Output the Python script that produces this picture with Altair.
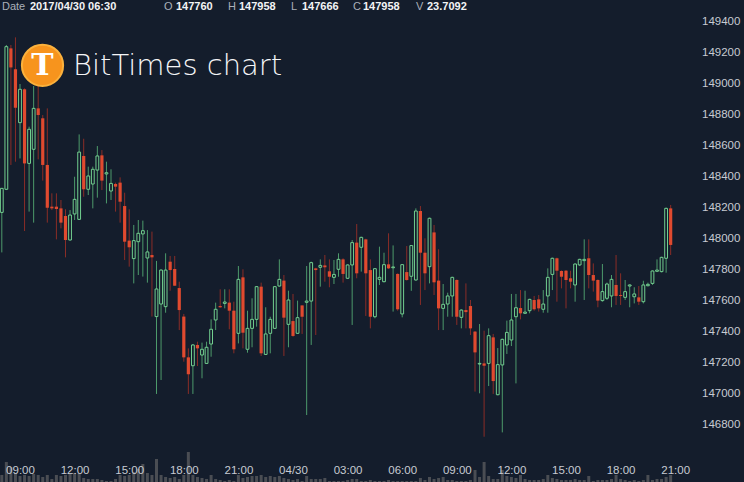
import altair as alt
import pandas as pd

# ---- data (15-minute candles, 2017/04/29 08:00 -> 2017/04/30 20:45) ----
opens = [148172,148321,149230,149095,148751,148966,148488,148579,148843,148779,
         148478,148209,148209,148198,148149,147994,148162,148127,148536,148321,
         148355,148445,148540,148420,148310,148355,148364,148213,147990,147874,
         147983,148033,147878,147897,147500,147581,147564,147854,147807,147684,
         147500,147237,147183,147317,147252,147198,147323,147478,147568,147585,
         147590,147538,147392,147753,147289,147424,147482,147693,147256,147392,
         147424,147697,147732,147450,147471,147392,147572,147592,147600,147811,
         147818,147830,147792,147753,147805,147869,147747,147833,147977,147947,
         147998,147800,147499,147740,147725,147837,147815,147775,147517,147787,
         147760,147736,148181,147912,147822,148043,147732,147553,147581,147633,
         147736,147495,147542,147568,147403,147194,147198,147198,147366,146996,
         147188,147317,147349,147499,147555,147521,147538,147607,147611,147547,
         147633,147772,147876,147794,147796,147747,147704,147833,147861,147876,
         147768,147736,147603,147618,147633,147704,147639,147624,147697,147628,
         147624,147596,147699,147714,147792,147790,147876,148198]
highs = [148327,149252,149252,149301,149000,148972,148725,148987,148987,148800,
         148843,148295,148295,148252,148192,148187,148402,148675,148647,148467,
         148467,148600,148574,148499,148450,148364,148398,148299,148192,148091,
         148123,148119,148058,148048,147859,147805,147908,147891,147891,147725,
         147517,147295,147323,147338,147332,147338,147482,147590,147676,147676,
         147676,147596,147826,147805,147538,147618,147697,147719,147560,147499,
         147697,147869,147768,147667,147646,147603,147572,147826,147854,147815,
         147869,147897,147869,147865,147908,147876,147837,147994,148097,148015,
         148002,147869,147813,147951,147912,148037,147959,147779,147839,147955,
         147958,148198,148213,148005,148138,148091,147934,147710,147654,147757,
         147740,147547,147714,147607,147407,147452,147409,147424,147388,147297,
         147358,147474,147646,147646,147671,147667,147615,147633,147639,147671,
         147811,147880,147880,147798,147800,147796,147843,147873,147998,147998,
         147843,147740,147839,147719,147768,147897,147779,147736,147708,147689,
         147697,147731,147719,147798,147869,147886,148203,148220]
lows = [147914,148316,148478,148499,148520,148052,148177,148106,148514,148377,
        148106,148187,147998,148069,147882,147990,148123,148123,148273,148284,
        148198,148267,148316,148230,148252,148177,148106,147865,147822,147714,
        147768,147758,147719,147500,147001,147091,147525,147667,147699,147413,
        147209,147001,147001,147181,147102,147194,147241,147413,147557,147553,
        147418,147263,147327,147295,147267,147302,147435,147246,147252,147263,
        147424,147693,147246,147302,147370,147388,147388,146865,147317,147381,
        147693,147725,147689,147710,147757,147719,147742,147446,147747,147790,
        147504,147424,147489,147704,147721,147807,147532,147538,147495,147732,
        147666,147732,147575,147671,147714,147639,147413,147413,147499,147499,
        147446,147424,147424,147381,147016,147005,146725,147052,147001,146992,
        146753,147259,147310,147069,147482,147517,147521,147538,147532,147525,
        147525,147671,147596,147682,147553,147682,147596,147826,147607,147682,
        147661,147560,147596,147607,147560,147575,147575,147607,147560,147585,
        147575,147585,147695,147704,147787,147785,147783,147897]
closes = [148327,149241,149107,148847,148966,148488,148708,148843,148800,148478,
          148202,148198,148194,148106,147994,148155,148256,148561,148321,148407,
          148450,148536,148377,148428,148359,148338,148241,147983,147947,147990,
          148037,148054,147917,147882,147678,147800,147800,147800,147699,147542,
          147237,147128,147317,147295,147289,147302,147418,147547,147560,147594,
          147538,147289,147740,147396,147424,147482,147693,147263,147388,147482,
          147693,147740,147493,147607,147375,147493,147499,147600,147848,147800,
          147830,147818,147757,147772,147869,147775,147833,147977,147779,148011,
          147779,147499,147809,147753,147835,147811,147820,147547,147835,147736,
          147958,148181,147912,147779,148134,147721,147553,147579,147633,147753,
          147499,147542,147529,147424,147269,147198,147183,147377,147084,147190,
          147353,147398,147478,147557,147521,147529,147611,147547,147553,147581,
          147753,147876,147796,147757,147736,147725,147839,147869,147869,147768,
          147732,147603,147661,147710,147740,147633,147633,147661,147704,147646,
          147596,147704,147708,147794,147800,147882,148198,147962]
volumes = [168,480,360,216,144,168,144,192,168,120,
           168,72,168,144,168,192,216,216,96,72,
           72,72,48,24,24,72,168,144,168,240,
           312,432,216,168,552,168,120,96,120,72,
           168,720,168,120,96,72,168,72,48,24,
           48,24,168,96,120,144,144,168,120,144,
           120,144,96,72,48,72,24,144,72,72,
           72,96,24,24,24,24,48,72,72,24,
           24,48,24,24,24,48,24,24,24,24,
           24,24,96,48,120,72,96,120,48,48,
           24,24,24,48,288,120,480,144,72,72,
           288,144,120,96,168,72,48,48,48,72,
           168,96,72,48,48,48,72,48,48,144,
           24,48,48,48,72,168,72,48,24,48,
           24,48,168,48,72,72,120,168]

tick_index = [4, 16, 28, 40, 52, 64, 76, 88, 100, 112, 124, 136, 148]
tick_labels = ["09:00", "12:00", "15:00", "18:00", "21:00", "04/30", "03:00",
               "06:00", "09:00", "12:00", "15:00", "18:00", "21:00"]
price_ticks = list(range(146800, 149401, 200))

# ---- styling ----
BG = "#141d2c"
RED = "#e04a2f"
RED_WICK = "#8a2d27"
GREEN = "#72cf8f"
GREEN_WICK = "#4d9a6b"
VOL = "#4a4d53"
LABEL = "#c7cbd2"
FONT = "Liberation Sans"

W, H = 690, 482
XDOM = [-0.396, 151.25]
YDOM = [146433, 149542]
VOL_MAX = 720          # volume drawn 30px tall at most
VOL_SPAN = 30 * (YDOM[1] - YDOM[0]) / H

df = pd.DataFrame({
    "i": list(range(len(opens))),
    "open": opens, "high": highs, "low": lows, "close": closes,
    "volume": volumes,
})
df["dir"] = ["up" if c >= o else "down" for o, c in zip(opens, closes)]

label_array = "[" + ",".join("'%s'" % s for s in tick_labels) + "]"
x_axis = alt.Axis(values=tick_index, labelExpr=label_array + "[round((datum.value-4)/12)]",
                  orient="bottom", offset=-20, domain=False, ticks=False, grid=False,
                  labelPadding=2, labelColor=LABEL, labelFont=FONT, labelFontSize=11.5,
                  title=None, zindex=1, labelFlush=False, labelOverlap=False)

xscale = alt.Scale(domain=XDOM, nice=False, zero=False, padding=0)
yscale = alt.Scale(domain=YDOM, nice=False, zero=False, padding=0)

base = alt.Chart(df)

vol = base.transform_calculate(
    vbase=str(YDOM[0]),
    vtop="%f + datum.volume * %f" % (YDOM[0], VOL_SPAN / VOL_MAX),
).mark_bar(width=3, color=VOL).encode(
    x=alt.X("i:Q", scale=xscale, axis=x_axis),
    y=alt.Y("vbase:Q", scale=yscale, axis=None),
    y2="vtop:Q",
)

wicks = base.mark_rule(strokeWidth=1).encode(
    x=alt.X("i:Q"),
    y=alt.Y("low:Q", axis=None),
    y2="high:Q",
    color=alt.Color("dir:N", scale=alt.Scale(domain=["up", "down"], range=[GREEN_WICK, RED_WICK]),
                    legend=None),
)
down_bodies = base.transform_filter(alt.datum.dir == "down").mark_bar(width=3.2, color=RED).encode(
    x=alt.X("i:Q"),
    y=alt.Y("open:Q", axis=None),
    y2="close:Q",
)
up_bodies = base.transform_filter(alt.datum.dir == "up").mark_bar(
    width=2.8, fill=BG, stroke=GREEN, strokeWidth=1).encode(
    x=alt.X("i:Q"),
    y=alt.Y("open:Q", axis=None),
    y2="close:Q",
)

# price labels on the right, positioned through the shared price scale
price_labels = alt.Chart(pd.DataFrame({"p": price_ticks})).mark_text(
    align="left", baseline="middle", font=FONT, fontSize=11.5, color=LABEL
).encode(
    x=alt.value(702),
    y=alt.Y("p:Q", axis=None),
    text=alt.Text("p:Q", format="d"),
)

# ---- header & logo ----
one = pd.DataFrame({"k": [0]})

def txt(s, x, y, color, size=11, weight="normal", font=FONT, align="left", baseline="middle"):
    return alt.Chart(one).mark_text(text=s, color=color, fontSize=size, fontWeight=weight,
                                    font=font, align=align, baseline=baseline).encode(
        x=alt.value(x), y=alt.value(y))

GRAY = "#aab0b9"
WHITE = "#f2f3f5"
header = [
    txt("Date", 2, 7, GRAY),
    txt("2017/04/30 06:30", 30, 7, WHITE, weight="bold"),
    txt("O", 164, 7, GRAY), txt("147760", 176, 7, WHITE, weight="bold"),
    txt("H", 228, 7, GRAY), txt("147958", 239, 7, WHITE, weight="bold"),
    txt("L", 291, 7, GRAY), txt("147666", 302, 7, WHITE, weight="bold"),
    txt("C", 353, 7, GRAY), txt("147958", 363, 7, WHITE, weight="bold"),
    txt("V", 416, 7, GRAY), txt("23.7092", 427, 7, WHITE, weight="bold"),
]
logo_circle = alt.Chart(one).mark_point(filled=True, size=1700, shape="circle", opacity=1,
                                        color="#f7941d", stroke="#fbb13c", strokeWidth=2).encode(
    x=alt.value(42.5), y=alt.value(65.3))
logo_t = txt("T", 42.5, 66, "#ffffff", size=30, weight="bold", font="DejaVu Serif", align="center")
logo_name = txt("BitTimes chart", 73, 75, "#f4f5f7", size=29, weight=200, font="DejaVu Sans",
                baseline="alphabetic")

chart = alt.layer(vol, wicks, down_bodies, up_bodies, price_labels, *header,
                  logo_circle, logo_t, logo_name).properties(
    width=W, height=H,
    background=BG,
    padding={"left": 0, "top": 0, "right": 54, "bottom": 0},
    autosize=alt.AutoSizeParams(type="none"),
).configure_view(stroke=None).configure_axis(labelOverlap=False)

chart.save("out.html", embed_options={"renderer": "svg", "actions": False})
